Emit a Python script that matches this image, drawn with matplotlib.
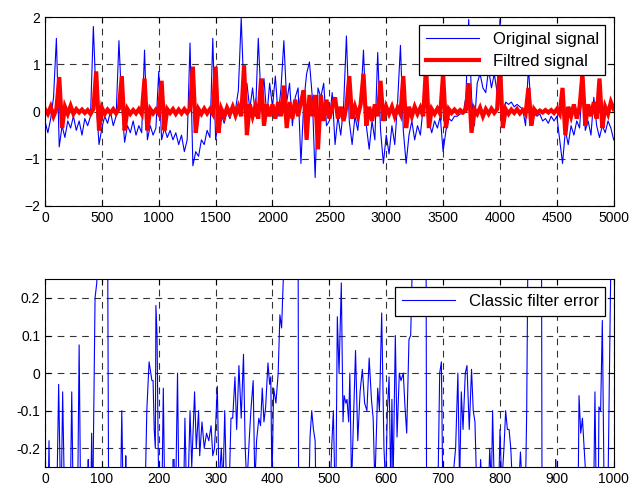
import matplotlib.pyplot as plt
import numpy as np

plt.rcParams['font.family'] = ['Liberation Sans', 'DejaVu Sans']

# top panel: samples every 25 points, 0..5000
orig_signal = [
    -0.2, -0.45, -0.15, 0.3, 1.55, -0.75, -0.3, -0.55, -0.2, -0.35,
    -0.1, -0.4, -0.2, -0.5, -0.15, -0.3, -0.1, 1.8, 0.2, -0.7,
    -0.35, -0.1, -0.25, 0.0, -0.3, -0.1, 1.5, 0.1, -0.65, -0.3,
    -0.45, -0.2, -0.5, -0.3, -0.45, 1.3, -0.6, -0.3, -0.5, -0.35,
    0.85, -0.6, -0.35, -0.55, -0.4, -0.6, -0.45, -0.7, -0.5, -0.85,
    -0.6, 1.45, -1.15, -0.85, -0.95, -0.6, -0.7, -0.4, -0.55, 1.55,
    -0.6, -0.2, -0.05, -0.25, 0.0, -0.15, 0.1, 0.05, 0.45, 1.98,
    0.3, 0.6, 0.05, 0.5, -0.1, 1.55, 0.2, 0.7, -0.1, 0.6,
    0.1, 0.75, -0.1, 0.5, 1.5, 0.2, 0.6, -0.3, 0.3, 0.5,
    -1.1, 0.2, 0.8, 1.05, 0.3, -1.4, 0.5, 0.3, 0.6, -0.3,
    -0.2, 0.4, -0.7, -0.1, -0.5, 0.1, 1.6, -0.2, -0.7, -0.1,
    -0.4, 0.2, 1.3, -0.3, -0.8, -0.2, -0.6, 1.25, -0.4, -1.1,
    -0.5, -0.9, -0.3, -0.7, 0.2, 1.4, -0.4, -1.1, -0.5, -0.2,
    -0.6, -0.3, -0.5, 0.1, 0.6, -0.2, -0.45, -0.2, -0.35, -0.1,
    -0.85, -0.4, -0.15, -0.2, -0.1, -0.1, -0.05, -0.05, 0.3, 1.95,
    0.3, -0.3, 0.6, 0.8, 0.5, 0.4, 0.9, 0.5, 0.8, 0.4,
    1.95, -0.1, 0.2, 0.15, 0.2, 0.1, 0.15, 0.1, 0.05, -0.3,
    0.95, 0.0, -0.05, -0.1, -0.05, -0.2, -0.15, -0.25, -0.1, -0.2,
    -0.1, -0.6, -1.1, -0.4, -0.7, -0.3, -0.5, -0.2, -0.35, 0.6,
    -0.4, -0.2, -0.5, 0.3, -0.3, -0.55, -0.3, -0.45, -0.2, -0.35,
    -0.6,
]

filt_signal = [
    0.05, -0.05, 0.1, -0.1, 0.05, 0.73, -0.35, 0.1, -0.05, 0.12,
    -0.05, 0.05, -0.02, 0.04, -0.03, 0.03, -0.05, 0.05, 0.85, -0.4,
    0.08, -0.05, 0.04, -0.03, 0.05, -0.04, 0.06, 0.75, -0.4, 0.05,
    -0.05, 0.03, -0.04, 0.05, -0.05, 0.7, -0.4, 0.05, -0.04, 0.04,
    -0.05, 0.65, -0.4, 0.05, -0.03, 0.05, -0.05, 0.04, -0.04, 0.05,
    -0.03, 0.05, 0.95, -0.45, 0.05, -0.05, 0.06, -0.04, 0.05, -0.05,
    0.95, -0.45, 0.05, -0.1, 0.08, -0.05, 0.1, -0.08, 0.1, -0.1,
    0.98, -0.5, 0.15, -0.1, 0.12, -0.15, 0.7, -0.3, 0.15, -0.1,
    0.15, -0.15, 0.2, -0.1, 0.55, -0.35, 0.2, -0.15, 0.25, -0.1,
    0.2, 0.45, -0.6, 0.35, -0.1, 0.35, -0.8, 0.35, -0.2, 0.25,
    -0.15, 0.1, 0.3, -0.15, 0.1, -0.2, 0.1, 0.75, -0.15, 0.1,
    -0.1, 0.15, 0.8, -0.3, 0.1, -0.2, 0.15, -0.1, 0.65, -0.2,
    0.1, -0.05, 0.1, -0.1, 0.08, -0.05, 0.75, -0.35, 0.1, -0.1,
    0.1, -0.05, 0.08, -0.1, 0.95, -0.35, 0.05, -0.05, 0.06, -0.05,
    0.8, -0.35, 0.05, -0.03, 0.04, -0.03, 0.03, -0.02, 0.03, 0.6,
    -0.45, 0.05, -0.05, 0.08, -0.1, 0.05, -0.05, 0.06, -0.03, 0.05,
    1.0, -0.35, 0.05, -0.05, 0.04, -0.03, 0.05, -0.04, 0.03, -0.05,
    0.5, -0.3, 0.05, -0.03, 0.02, -0.02, 0.03, -0.02, 0.03, -0.03,
    0.05, -0.05, 0.5, -0.5, 0.1, -0.1, 0.15, -0.15, 0.1, 0.8,
    -0.3, 0.15, -0.1, 0.2, -0.15, 0.7, -0.35, 0.1, -0.05, 0.2,
    0.05,
]
samples = np.arange(0, 5001, 25)

# bottom panel: error of the classic filter (values off the axis go past +-0.25)
err_t = [
    0, 5, 7, 9, 20, 24, 28, 31, 35, 44, 47, 50, 57, 60, 63, 74, 76, 78, 80, 82,
    84, 85, 88, 91, 93, 100, 110, 112, 132, 135, 138, 141, 142, 143, 175, 179, 183, 186, 188, 190,
    192, 194, 195, 197, 199, 201, 205, 208, 211, 224, 225, 227, 229, 233, 236, 243, 246, 250, 255, 258,
    263, 266, 270, 272, 276, 280, 284, 288, 292, 295, 298, 300, 303, 306, 310, 313, 316, 319, 324, 327,
    330, 334, 337, 341, 345, 349, 352, 355, 359, 362, 366, 369, 372, 376, 379, 382, 385, 388, 392, 395,
    397, 399, 402, 406, 410, 413, 416, 419, 421, 440, 445, 446, 463, 466, 469, 472, 475, 477, 500, 504,
    507, 511, 514, 517, 521, 524, 526, 529, 531, 534, 536, 539, 544, 546, 550, 554, 558, 562, 566, 570,
    574, 577, 580, 585, 588, 592, 596, 599, 602, 605, 608, 610, 612, 616, 619, 623, 626, 630, 633, 636,
    640, 643, 646, 650, 668, 670, 671, 690, 694, 697, 700, 716, 719, 722, 726, 729, 732, 735, 739, 742,
    746, 750, 753, 756, 759, 764, 766, 768, 780, 782, 785, 787, 790, 798, 800, 803, 807, 810, 813, 816,
    819, 822, 833, 836, 839, 845, 847, 849, 852, 870, 873, 874, 896, 898, 900, 937, 939, 942, 945, 948,
    952, 965, 967, 969, 973, 974, 977, 980, 983, 990, 995, 1000,
]
err_v = [
    -0.4, -0.4, -0.18, -0.4, -0.4, -0.03, -0.4, -0.05, -0.4, -0.4, -0.05, -0.4, -0.4, 0.075, -0.4, -0.4, -0.23, -0.4, -0.4, -0.16,
    -0.4, -0.2, 0.2, 0.24, 0.4, 0.5, 0.4, -0.4, -0.4, -0.1, -0.4, -0.4, -0.22, -0.4, -0.4, -0.1, 0.03, 0.0, -0.02, -0.02,
    -0.15, -0.2, 0.18, 0.1, -0.2, -0.4, -0.4, -0.04, -0.4, -0.4, -0.23, -0.23, -0.4, 0.0, -0.4, -0.4, -0.12, -0.4, -0.1, -0.25,
    -0.05, -0.2, -0.1, -0.22, -0.13, -0.2, -0.16, -0.18, -0.14, -0.22, -0.2, -0.14, -0.035, -0.3, -0.2, -0.3, -0.1, -0.3, -0.3, -0.12,
    -0.12, -0.01, -0.15, 0.02, -0.12, 0.05, -0.2, -0.3, -0.18, -0.1, -0.02, -0.3, -0.18, -0.12, -0.14, -0.04, -0.13, -0.09, 0.027, -0.03,
    -0.01, -0.3, -0.04, -0.08, 0.0, 0.155, 0.12, 0.25, 0.5, 0.5, 0.4, -0.4, -0.4, -0.17, -0.1, -0.15, -0.18, -0.4, -0.4, -0.2,
    -0.1, -0.4, 0.15, 0.0, 0.24, -0.13, -0.06, -0.08, -0.07, -0.13, 0.0, -0.3, -0.04, 0.06, -0.18, -0.05, 0.01, -0.08, -0.1, 0.04,
    -0.07, -0.12, -0.3, -0.04, -0.1, 0.16, -0.2, -0.3, -0.1, -0.01, -0.3, -0.07, -0.3, 0.1, -0.17, 0.0, -0.02, 0.0, -0.09, -0.16,
    0.09, 0.1, 0.3, 0.5, 0.5, 0.4, -0.4, -0.4, 0.0, 0.03, -0.4, -0.4, -0.25, -0.2, 0.0, -0.3, -0.05, -0.15, 0.0, 0.02,
    -0.15, 0.01, -0.1, -0.13, -0.3, -0.3, -0.23, -0.3, -0.3, -0.2, -0.3, -0.1, -0.3, -0.3, -0.15, -0.3, -0.2, -0.1, -0.15, -0.15,
    -0.2, -0.3, -0.3, -0.21, -0.3, -0.3, -0.1, 0.3, 0.5, 0.5, 0.4, -0.4, -0.4, -0.23, -0.4, -0.4, -0.06, -0.16, -0.12, -0.2,
    -0.3, -0.3, -0.05, -0.3, -0.3, -0.09, -0.1, 0.14, -0.3, -0.3, 0.3, 0.5,
]


def matlab_axes(ax):
    ax.grid(True, color='black', linestyle=(0, (6, 5)), linewidth=0.8, alpha=0.8)
    ax.tick_params(direction='in', top=True, right=True, length=4, labelsize=10)
    for s in ax.spines.values():
        s.set_linewidth(0.8)


def matlab_legend(ax):
    leg = ax.legend(loc='upper right', fontsize=12, fancybox=False, framealpha=1,
                    edgecolor='black', handlelength=3.2, borderaxespad=0.5,
                    labelspacing=0.4)
    leg.get_frame().set_linewidth(0.9)


fig = plt.figure(figsize=(6.34, 4.88), dpi=100)

ax1 = fig.add_axes([0.071, 0.578, 0.897, 0.387])
ax1.plot(samples, orig_signal, color='blue', linewidth=0.8, label='Original signal')
ax1.plot(samples, filt_signal, color='red', linewidth=3, solid_joinstyle='miter',
         label='Filtred signal')
ax1.set_xlim(0, 5000)
ax1.set_ylim(-2, 2)
ax1.set_xticks(np.arange(0, 5001, 500))
ax1.set_yticks([-2, -1, 0, 1, 2])
matlab_axes(ax1)
matlab_legend(ax1)

ax2 = fig.add_axes([0.071, 0.043, 0.897, 0.385])
ax2.plot(err_t, err_v, color='blue', linewidth=0.8, label='Classic filter error')
ax2.set_xlim(0, 1000)
ax2.set_ylim(-0.25, 0.25)
ax2.set_xticks(np.arange(0, 1001, 100))
ax2.set_yticks([-0.2, -0.1, 0, 0.1, 0.2])
ax2.set_yticklabels(['-0.2', '-0.1', '0', '0.1', '0.2'])
matlab_axes(ax2)
matlab_legend(ax2)

plt.savefig('out.png')
plt.close()
